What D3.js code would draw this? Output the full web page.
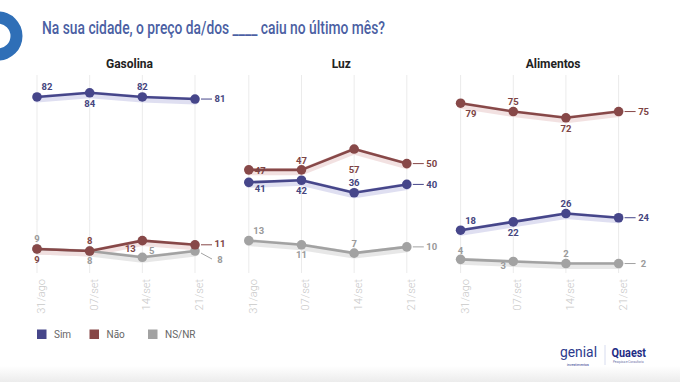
<!DOCTYPE html>
<html><head><meta charset="utf-8">
<script src="https://cdn.jsdelivr.net/npm/d3@7/dist/d3.min.js"></script>
<style>body{margin:0;background:#fff;}svg{display:block;font-family:Roboto,"Noto Sans",sans-serif;}</style>
</head><body><svg id="c" width="680" height="382"></svg>
<script>
// ---- data ----
const dates = ["31/ago", "07/set", "14/set", "21/set"];
const panels = ["Gasolina", "Luz", "Alimentos"];
const seriesNames = ["Sim", "Não", "NS/NR"];
const gasolinaSim = [82, 84, 82, 81];
const gasolinaNao = [9, 8, 13, 11];
const gasolinaNs = [9, 8, 5, 8];
const luzSim = [41, 42, 36, 40];
const luzNao = [47, 47, 57, 50];
const luzNs = [13, 11, 7, 10];
const alimentosSim = [18, 22, 26, 24];
const alimentosNao = [79, 75, 72, 75];
const alimentosNs = [4, 3, 2, 2];
const title = "Na sua cidade, o preço da/dos ____ caiu no último mês?";

const panelData = [
  [gasolinaSim, gasolinaNao, gasolinaNs],
  [luzSim, luzNao, luzNs],
  [alimentosSim, alimentosNao, alimentosNs]
];

// ---- styles / layout ----
const colors = ["#46468a", "#874848", "#a2a2a2"];
const labelColors = ["#45457e", "#7c4444", "#9a9a9a"];
const haloColors = ["#dcdcf0", "#f1dede", "#e4e4e4"];
// label placements [dx, dy] relative to the point (last point: right label)
const place = [
  [ [[10,-10],[0,10.5],[0,-10],"r"], [[0,11],[0,-10],[-12,8.5],["r",-1.5]], [[0,-10.3],[0,10],[9.5,-7],["rd",9]] ],
  [ [[11.5,6.7],[0,10.4],[0,-9.7],"r"], [[11.5,1.2],[0,-9.5],[0,21],"r"], [[10,-9.6],[0,10],[0,-9.8],"r"] ],
  [ [[10,-9.5],[0,10.4],[0,-10],"r"], [[10.3,10.8],[0,-10],[0,11],"r"], [[0,-9],[-10,4.5],[0,-9.5],"r"] ]
];

const svg = d3.select("#c");
const defs = svg.append("defs");
const grad = defs.append("linearGradient").attr("id","bg").attr("x1",0).attr("y1",0).attr("x2",0).attr("y2",1);
grad.append("stop").attr("offset","0%").attr("stop-color","#ffffff");
grad.append("stop").attr("offset","100%").attr("stop-color","#ececec");
svg.append("rect").attr("x",0).attr("y",366).attr("width",680).attr("height",16).attr("fill","url(#bg)");

// blue ring at left
svg.append("path")
  .attr("d", d3.arc().innerRadius(12.5).outerRadius(24.5).startAngle(0).endAngle(2*Math.PI)())
  .attr("transform","translate(-2,36)")
  .attr("fill","#2f6fb7");

svg.append("text").attr("x",42).attr("y",33.5)
  .attr("font-size",18.5).attr("font-weight",500).attr("fill","#4b5fa3")
  .attr("textLength",343).attr("lengthAdjust","spacingAndGlyphs")
  .text(title);

const y = d3.scaleLinear().domain([0,100]).range([267.7, 59.5]);

panels.forEach((pname, pi) => {
  const x0 = 37 + 211.8*pi;
  const x = d3.scalePoint().domain(dates).range([x0, x0 + 158]);
  const g = svg.append("g");

  g.append("text").attr("x", x0 + 92.5).attr("y", 68)
    .attr("text-anchor","middle").attr("font-size",12).attr("font-weight",700).attr("fill","#222")
    .text(pname);

  // vertical gridlines
  g.selectAll(".grid").data(dates).join("line")
    .attr("x1", d => x(d)).attr("x2", d => x(d))
    .attr("y1", 75).attr("y2", 273)
    .attr("stroke","#ebebeb").attr("stroke-width",1);

  // x tick labels rotated
  g.selectAll(".tick").data(dates).join("text")
    .attr("transform", d => `translate(${x(d)+8},279) rotate(-90)`)
    .attr("text-anchor","end").attr("font-size",11).attr("font-weight",300).attr("fill","#c9c9c9")
    .text(d => d);

  const line = d3.line().x((d,i) => x(dates[i])).y(d => y(d));

  // draw order: NS, Sim, Não
  [2,0,1].forEach(si => {
    const vals = panelData[pi][si];
    g.append("path").datum(vals).attr("d", line)
      .attr("transform","translate(0,2)")
      .attr("fill","none").attr("stroke",haloColors[si]).attr("stroke-width",7)
      .attr("stroke-linejoin","round").attr("stroke-linecap","round").attr("opacity",0.9);
  });
  [2,0,1].forEach(si => {
    const vals = panelData[pi][si];
    g.append("path").datum(vals).attr("d", line)
      .attr("fill","none").attr("stroke",colors[si]).attr("stroke-width",2.6)
      .attr("stroke-linejoin","round");
    g.selectAll(null).data(vals).join("circle")
      .attr("cx",(d,i) => x(dates[i])).attr("cy", d => y(d)).attr("r",4.8)
      .attr("fill",colors[si]);
  });
  // labels
  [0,1,2].forEach(si => {
    const vals = panelData[pi][si];
    vals.forEach((v,i) => {
      const p = place[pi][si][i];
      const px = x(dates[i]), py = y(v);
      let lx, ly;
      if (p === "r" || (Array.isArray(p) && (p[0] === "r" || p[0] === "rd"))) {
        const off = Array.isArray(p) ? p[1] : 0;
        lx = px + 25; ly = py + off;
        g.append("line").attr("x1", px + 6).attr("y1", py + (p[0]==="rd" ? 2 : 0))
          .attr("x2", px + 17).attr("y2", p[0]==="rd" ? ly - 1 : py)
          .attr("stroke", colors[si]).attr("stroke-width",1);
      } else {
        lx = px + p[0]; ly = py + p[1];
      }
      g.append("text").attr("x",lx).attr("y",ly).attr("dy","0.35em")
        .attr("text-anchor","middle").attr("font-size",9.5).attr("font-weight",700)
        .attr("fill",labelColors[si]).text(v);
    });
  });
});

// legend
const leg = svg.append("g");
const legX = [37, 89.5, 148];
seriesNames.forEach((s,i) => {
  leg.append("rect").attr("x",legX[i]).attr("y",329.5).attr("width",9.5).attr("height",9.5).attr("fill",colors[i]);
  leg.append("text").attr("x",legX[i]+17).attr("y",334.5).attr("dy","0.35em")
    .attr("font-size",10).attr("fill","#666").text(s);
});

// logos
svg.append("text").attr("x",560).attr("y",357).attr("font-size",14.5).attr("fill","#2b3a8c")
  .attr("textLength",37).attr("lengthAdjust","spacingAndGlyphs").text("genial");
svg.append("text").attr("x",567).attr("y",366).attr("font-size",3.5).attr("fill","#2b3a8c").text("investimentos");
svg.append("line").attr("x1",605).attr("x2",605).attr("y1",345).attr("y2",365).attr("stroke","#d7dcef").attr("stroke-width",1);
svg.append("text").attr("x",611.5).attr("y",357).attr("font-size",12.5).attr("font-weight",700).attr("fill","#1f2d85")
  .attr("textLength",34.5).attr("lengthAdjust","spacingAndGlyphs").text("Quaest");
svg.append("text").attr("x",613).attr("y",363).attr("font-size",3).attr("fill","#6b74a8").text("Pesquisa e Consultoria");
</script></body></html>
